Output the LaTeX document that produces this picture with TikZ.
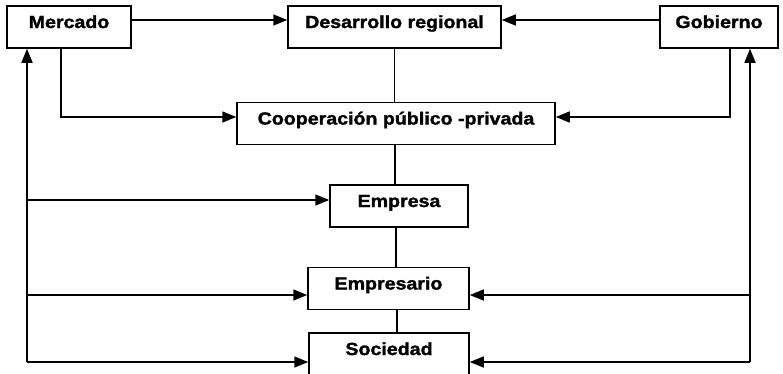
\documentclass[tikz,border=0pt]{standalone}
\usepackage{fontspec}
\setmainfont[FakeStretch=1.12, BoldFeatures={FakeBold=1.6}]{Liberation Sans}
\usepackage{tikz}
\usetikzlibrary{arrows.meta,positioning,calc}

\begin{document}
\begin{tikzpicture}[
    x=1pt, y=-1pt,
    every node/.style={font=\fontsize{17.5}{20}\selectfont\bfseries},
    box/.style={draw, line width=1.5pt, inner sep=0pt, minimum height=42pt,
                text height=22pt, text depth=20pt, align=center},
    arr/.style={-{Triangle[length=14pt,width=11pt]}, line width=1.5pt},
    link/.style={line width=1.5pt}
]
\useasboundingbox (0,0) rectangle (783,373);
\clip (0,0) rectangle (783,373);

% ── Top row ───────────────────────────────────────────────────────────────
\node[box, minimum width=124pt] (merc) at (69,27) {Mercado};
\node[box, minimum width=213pt] (des) at (394.5,27) {Desarrollo regional};
\node[box, minimum width=118pt] (gob) at (719,27) {Gobierno};

% ── Middle column ─────────────────────────────────────────────────────────
\node[box, minimum width=318pt, minimum height=41pt] (coop) at (396,123.5)
      {Cooperación público -privada};
\node[box, minimum width=138pt] (empa) at (399,206) {Empresa};
\node[box, minimum width=161pt, minimum height=41pt] (empo) at (388.5,288.5)
      {Empresario};
\node[box, minimum width=160pt] (soc) at (389,354) {Sociedad};

% ── Corners of the outer frame ────────────────────────────────────────────
\coordinate (lb) at (27,362);
\coordinate (rb) at (750,362);
\coordinate (empaL) at ([yshift=6pt]empa.west);
\coordinate (empoL) at ([yshift=-6.5pt]empo.west);
\coordinate (empoR) at ([yshift=-6.5pt]empo.east);
\coordinate (socL) at ([yshift=-8pt]soc.west);
\coordinate (socR) at ([yshift=-8pt]soc.east);

% ── Top row → Desarrollo regional ─────────────────────────────────────────
\draw[arr] ([yshift=7pt]merc.east) -- ([yshift=7pt]des.west);
\draw[arr] ([yshift=7pt]gob.west) -- ([yshift=7pt]des.east);

% ── Mercado / Gobierno → Cooperación ──────────────────────────────────────
\draw[arr] ([xshift=-8pt]merc.south) |- ([yshift=6.5pt]coop.west);
\draw[arr] ([xshift=11pt]gob.south) |- ([yshift=6.5pt]coop.east);

% ── Spine ─────────────────────────────────────────────────────────────────
\draw[link] (des.south) -- (des.south |- coop.north);
\draw[link] ([xshift=-1pt]coop.south) -- ([xshift=-1pt]coop.south |- empa.north);
\draw[link] ([xshift=-3pt]empa.south) -- ([xshift=-3pt]empa.south |- empo.north);
\draw[link] ([xshift=8.5pt]empo.south) -- ([xshift=8.5pt]empo.south |- soc.north);

% ── Left frame ────────────────────────────────────────────────────────────
\draw[arr] (lb) -- ([xshift=-42pt]merc.south);
\draw[arr] (lb |- empaL) -- (empaL);
\draw[arr] (lb |- empoL) -- (empoL);
\draw[arr] (lb) -- (socL);

% ── Right frame ───────────────────────────────────────────────────────────
\draw[arr] (rb) -- ([xshift=31pt]gob.south);
\draw[arr] (rb |- empoR) -- (empoR);
\draw[arr] (rb) -- (socR);

\end{tikzpicture}
\end{document}
